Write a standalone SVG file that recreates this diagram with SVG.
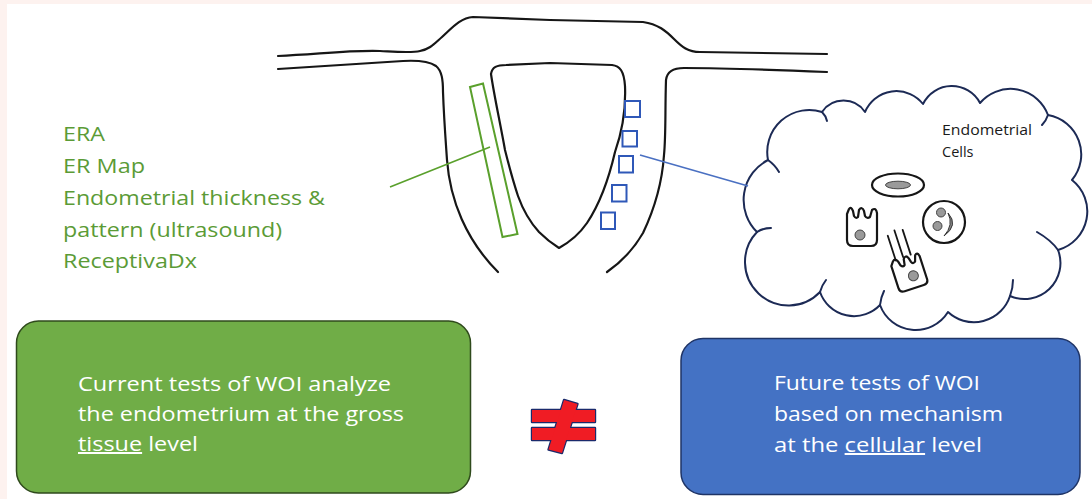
<svg xmlns="http://www.w3.org/2000/svg" width="1092" height="499" viewBox="0 0 1092 499">
  <style>
    .ink { fill: none; stroke: #161616; stroke-width: 2.2; stroke-linecap: round; stroke-linejoin: round; }
    .list { font-family: "Open Sans", "Noto Sans", sans-serif; font-size: 20.5px; fill: #5b9b36; }
    .boxtext { font-family: "Open Sans", "Noto Sans", sans-serif; font-size: 20px; fill: #ffffff; }
    .label { font-family: "Open Sans", "Noto Sans", sans-serif; font-size: 14.5px; fill: #1a1a1a; }
    .site { fill: none; stroke: #2f58b8; stroke-width: 2; }
    .cell { fill: #ffffff; stroke: #161616; stroke-width: 2.2; stroke-linejoin: round; }
    .nuc { fill: #9a9a9a; stroke: #444; stroke-width: 1; }
    .neq { fill: #f01c24; stroke: #1b2a6b; stroke-width: 2.4; stroke-linejoin: round; }
    .neqfill { fill: #f01c24; stroke: none; }
  </style>

  <!-- page background with thin tinted margin -->
  <rect x="0" y="0" width="1092" height="499" fill="#fdf2ef"/>
  <rect x="7" y="4" width="1085" height="495" fill="#ffffff"/>

  <!-- uterus sketch -->
  <g id="uterus">
    <path class="ink" d="M278,56 C320,54 350,50 380,51 C400,52 412,53 420,51 C430,49 434,44 442,37 C452,28 460,18 473,17 L550,20 L643,22 C658,24 666,31 674,39 C682,47 688,52 700,52 L827,54"/>
    <path class="ink" d="M278,69 C330,66 370,63 403,61 C420,60 430,62 436,66 C442,71 443,80 443,92 C444,120 446,145 447,160 C450,200 466,240 498,272"/>
    <path class="ink" d="M827,72 C780,70 730,68 684,68 C674,68 667,71 666,80 C665,110 666,135 664,155 C662,185 653,212 643,233 C632,252 620,263 607,272"/>
    <path class="ink" stroke-width="2.6" d="M491,74 C492,67 497,65 506,65 L550,63 L612,65 C620,66 624,71 625,86 C626,110 622,132 615,152 C609,178 599,205 587,223 C578,236 568,243 559,248 C551,243 545,238 539,232 C529,221 523,210 518,196 C512,178 508,162 505,150 C500,122 494,95 491,74 Z"/>
  </g>

  <!-- tissue-level sampling band -->
  <g id="tissue-band">
    <polygon points="470,87 483,83.5 517.5,234 502.5,237" fill="none" stroke="#5aa02c" stroke-width="2"/>
  </g>

  <!-- cell-level sampling sites -->
  <g id="cell-sites">
    <rect class="site" x="625" y="101" width="15" height="16"/>
    <rect class="site" x="622.5" y="131" width="14.5" height="15.5"/>
    <rect class="site" x="619" y="156" width="14" height="16.5"/>
    <rect class="site" x="612" y="185" width="14.5" height="16.5"/>
    <rect class="site" x="601" y="212.5" width="14" height="16.5"/>
  </g>

  <!-- test list -->
  <g id="test-list">
    <text class="list" x="63" y="141" textLength="42" lengthAdjust="spacingAndGlyphs">ERA</text>
    <text class="list" x="63" y="173" textLength="82" lengthAdjust="spacingAndGlyphs">ER Map</text>
    <text class="list" x="63" y="205" textLength="262" lengthAdjust="spacingAndGlyphs">Endometrial thickness &amp;</text>
    <text class="list" x="63" y="237" textLength="219" lengthAdjust="spacingAndGlyphs">pattern (ultrasound)</text>
    <text class="list" x="63" y="268" textLength="134" lengthAdjust="spacingAndGlyphs">ReceptivaDx</text>
  </g>

  <!-- cloud of endometrial cells -->
  <g id="cell-cloud">
    <path fill="#ffffff" stroke="#1c2a55" stroke-width="2" stroke-linejoin="round"
      d="M757,232 A45,45 0 0 1 768,160 A42,42 0 0 1 822,112 A26,26 0 0 1 865,112 A34,34 0 0 1 923,104 A32,32 0 0 1 980,103 A40,40 0 0 1 1048,115 A40,40 0 0 1 1072,180 A40,40 0 0 1 1058,250 A36,36 0 0 1 1010,296 A38,38 0 0 1 948,312 A38,38 0 0 1 880,305 A36,36 0 0 1 820,292 A40,40 0 0 1 757,232 Z"/>
    <!-- inner folds of the cloud outline -->
    <path fill="none" stroke="#1c2a55" stroke-width="2" stroke-linecap="round"
      d="M768,160 Q775,165 779,172 M822,112 Q826,116 827,121 M1048,115 Q1046,121 1042,125 M1058,250 Q1051,240 1037,232 M1010,296 Q1013,288 1013,280 M880,305 Q881,297 884,291 M820,292 Q822,285 826,280 M757,232 Q763,228 771,228"/>
    <text class="label" x="942" y="135" textLength="90" lengthAdjust="spacingAndGlyphs">Endometrial</text>
    <text class="label" x="942" y="157">Cells</text>

    <!-- stromal cell -->
    <g id="stromal-cell">
      <ellipse class="cell" cx="898" cy="185" rx="26" ry="11.5"/>
      <ellipse class="nuc" cx="898" cy="185" rx="12.5" ry="3.8"/>
    </g>
    <!-- leukocyte -->
    <g id="round-cell">
      <circle class="cell" cx="944" cy="222" r="21"/>
      <circle class="nuc" cx="941" cy="212.5" r="4.5"/>
      <circle class="nuc" cx="937.5" cy="226" r="4.5"/>
      <path fill="#888" stroke="#333" stroke-width="1" d="M948,213 Q959,225 944,236 Q954,225 948,213 Z"/>
    </g>
    <!-- secretory epithelial cell -->
    <g id="secretory-cell">
      <path class="cell" d="M847,214 L847,240 Q847,246 853,246 L871,246 Q877,246 877,240 L877,213 Q876,207 872,210 L870,217 Q867,219 865,216 L864,211 Q862,206 859,210 L858,217 Q856,219 854,216 L853,211 Q851,206 849,209 Z"/>
      <circle class="nuc" cx="860" cy="235" r="5"/>
    </g>
    <!-- ciliated epithelial cell -->
    <g id="ciliated-cell" transform="rotate(-18 909 272)">
      <path class="cell" d="M894,261 L894,284 Q894,289 899,289 L919,289 Q924,289 924,284 L924,260 Q923,255 920,258 L918,264 Q915,266 914,263 L913,259 Q911,254 908,258 L907,264 Q905,266 903,263 L902,259 Q900,254 897,257 Z"/>
      <circle class="nuc" cx="912" cy="277" r="5"/>
      <path fill="none" stroke="#161616" stroke-width="1.8" stroke-linecap="round" d="M900,257 L900,231 M908,256 L908,228 M916,256 L916,230"/>
    </g>
  </g>

  <!-- connectors -->
  <g id="connectors">
    <line x1="390" y1="187" x2="490" y2="147" stroke="#5aa02c" stroke-width="1.6"/>
    <line x1="640" y1="155" x2="748" y2="186" stroke="#4a70c2" stroke-width="1.6"/>
  </g>

  <!-- current tests box -->
  <g id="current-tests">
    <rect x="16.5" y="321" width="454" height="172" rx="22" fill="#70ad47" stroke="#2f4a1c" stroke-width="1.5"/>
    <text class="boxtext" x="78" y="391" textLength="313" lengthAdjust="spacingAndGlyphs">Current tests of WOI analyze</text>
    <text class="boxtext" x="78" y="421" textLength="326" lengthAdjust="spacingAndGlyphs">the endometrium at the gross</text>
    <text class="boxtext" x="78" y="451" textLength="120" lengthAdjust="spacingAndGlyphs"><tspan text-decoration="underline">tissue</tspan> level</text>
  </g>

  <!-- not-equal sign -->
  <g id="not-equal">
    <rect class="neq" x="532" y="410" width="63" height="12"/>
    <rect class="neq" x="532" y="428" width="63" height="12"/>
    <polygon class="neq" points="564,400 577.5,404 562,453 548.5,449.5"/>
    <rect class="neqfill" x="532" y="410" width="63" height="12"/>
    <rect class="neqfill" x="532" y="428" width="63" height="12"/>
    <polygon class="neqfill" points="564,400 577.5,404 562,453 548.5,449.5"/>
  </g>

  <!-- future tests box -->
  <g id="future-tests">
    <rect x="681" y="338.5" width="399" height="156" rx="22" fill="#4472c4" stroke="#1f3466" stroke-width="1.5"/>
    <text class="boxtext" x="774" y="390" textLength="206" lengthAdjust="spacingAndGlyphs">Future tests of WOI</text>
    <text class="boxtext" x="774" y="421" textLength="229" lengthAdjust="spacingAndGlyphs">based on mechanism</text>
    <text class="boxtext" x="774" y="452" textLength="208" lengthAdjust="spacingAndGlyphs">at the <tspan text-decoration="underline">cellular</tspan> level</text>
  </g>
</svg>
